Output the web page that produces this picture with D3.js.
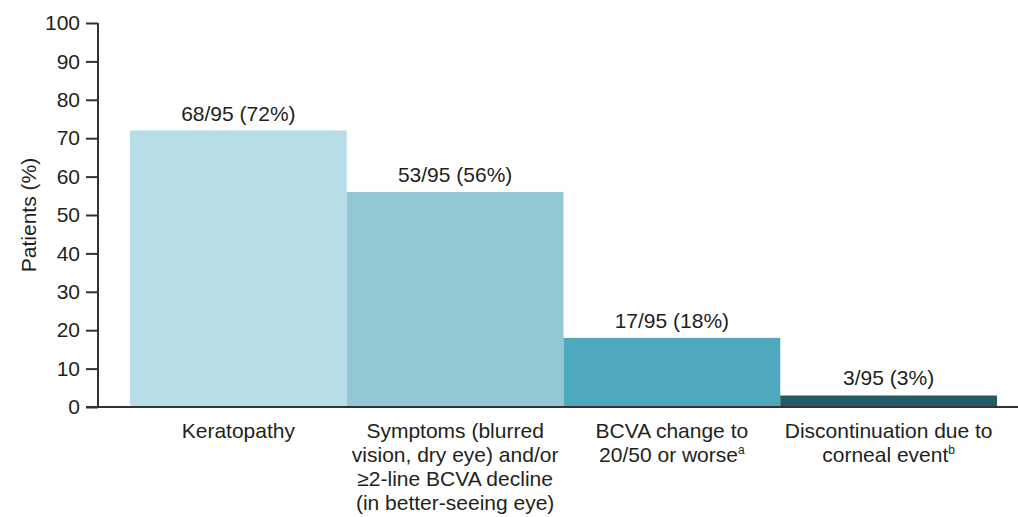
<!DOCTYPE html>
<html>
<head>
<meta charset="utf-8">
<script src="https://cdn.jsdelivr.net/npm/d3@7"></script>
<style>
  body { margin: 0; background: #fff; }
  text { font-family: "Liberation Sans", Arial, sans-serif; fill: #231f20; }
</style>
</head>
<body>
<div id="chart"></div>
<script>
var width = 1018;
var height = 517;

// data
var categories = ["Keratopathy", "Symptoms", "BCVA", "Discontinuation"];
var catLines = [
	["Keratopathy"],
	["Symptoms (blurred", "vision, dry eye) and/or", "\u22652-line BCVA decline", "(in better-seeing eye)"],
	["BCVA change to", "20/50 or worse"],
	["Discontinuation due to", "corneal event"]
];
var catSup = ["", "", "a", "b"];
var values = [72, 56, 18, 3];
var valueLabels = ["68/95 (72%)", "53/95 (56%)", "17/95 (18%)", "3/95 (3%)"];
var yTicks = [0, 10, 20, 30, 40, 50, 60, 70, 80, 90, 100];
var yTitle = "Patients (%)";

//colors
var barColors = ["#b7dde6", "#94c7d4", "#4ea9be", "#235c67"];
var axisColor = "#333";

var x = d3.scaleBand()
	.domain(categories)
	.range([130, 997])
	.padding(0);

var y = d3.scaleLinear()
	.domain([0, 100])
	.range([407, 23]);

var svg = d3.select("#chart")
	.append("svg")
	.attr("width", width)
	.attr("height", height);

// bars
svg.selectAll(".bar")
	.data(values)
	.enter().append("rect")
	.attr("class", "bar")
	.attr("x", function(d, i) { return x(categories[i]); })
	.attr("y", function(d) { return y(d); })
	.attr("width", x.bandwidth())
	.attr("height", function(d) { return y(0) - y(d); })
	.style("fill", function(d, i) { return barColors[i]; });

// value labels above bars
svg.selectAll(".vlabel")
	.data(values)
	.enter().append("text")
	.attr("class", "vlabel")
	.attr("x", function(d, i) { return x(categories[i]) + x.bandwidth() / 2; })
	.attr("y", function(d) { return y(d) - 10; })
	.attr("text-anchor", "middle")
	.style("font-size", "21px")
	.text(function(d, i) { return valueLabels[i]; });

// y axis
var yAxis = svg.append("g")
	.attr("transform", "translate(98,0)")
	.call(d3.axisLeft(y).tickValues(yTicks).tickSize(12).tickPadding(6));
yAxis.select(".domain").attr("stroke", axisColor).attr("stroke-width", 2)
	.attr("d", "M0," + y(100) + "V" + y(0));
yAxis.selectAll(".tick line").attr("stroke", axisColor).attr("stroke-width", 2);
yAxis.selectAll(".tick text")
	.style("font-size", "21px")
	.style("font-family", "'Liberation Sans', Arial, sans-serif")
	.attr("fill", "#231f20");

// x axis baseline
svg.append("line")
	.attr("x1", 86)
	.attr("x2", width)
	.attr("y1", y(0))
	.attr("y2", y(0))
	.attr("stroke", axisColor)
	.attr("stroke-width", 2);

// y title
svg.append("text")
	.attr("transform", "translate(36," + (y(50)) + ") rotate(-90)")
	.attr("text-anchor", "middle")
	.style("font-size", "21px")
	.text(yTitle);

// category labels
var cat = svg.selectAll(".cat")
	.data(categories)
	.enter().append("text")
	.attr("class", "cat")
	.attr("text-anchor", "middle")
	.style("font-size", "21px");

cat.each(function(c, i) {
	var t = d3.select(this);
	var cx = x(c) + x.bandwidth() / 2;
	catLines[i].forEach(function(line, j) {
		t.append("tspan")
			.attr("x", cx)
			.attr("y", 438 + j * 24)
			.text(line);
		if (j == catLines[i].length - 1 && catSup[i]) {
			t.append("tspan")
				.attr("dy", -8)
				.style("font-size", "12px")
				.text(catSup[i]);
		}
	});
});
</script>
</body>
</html>
